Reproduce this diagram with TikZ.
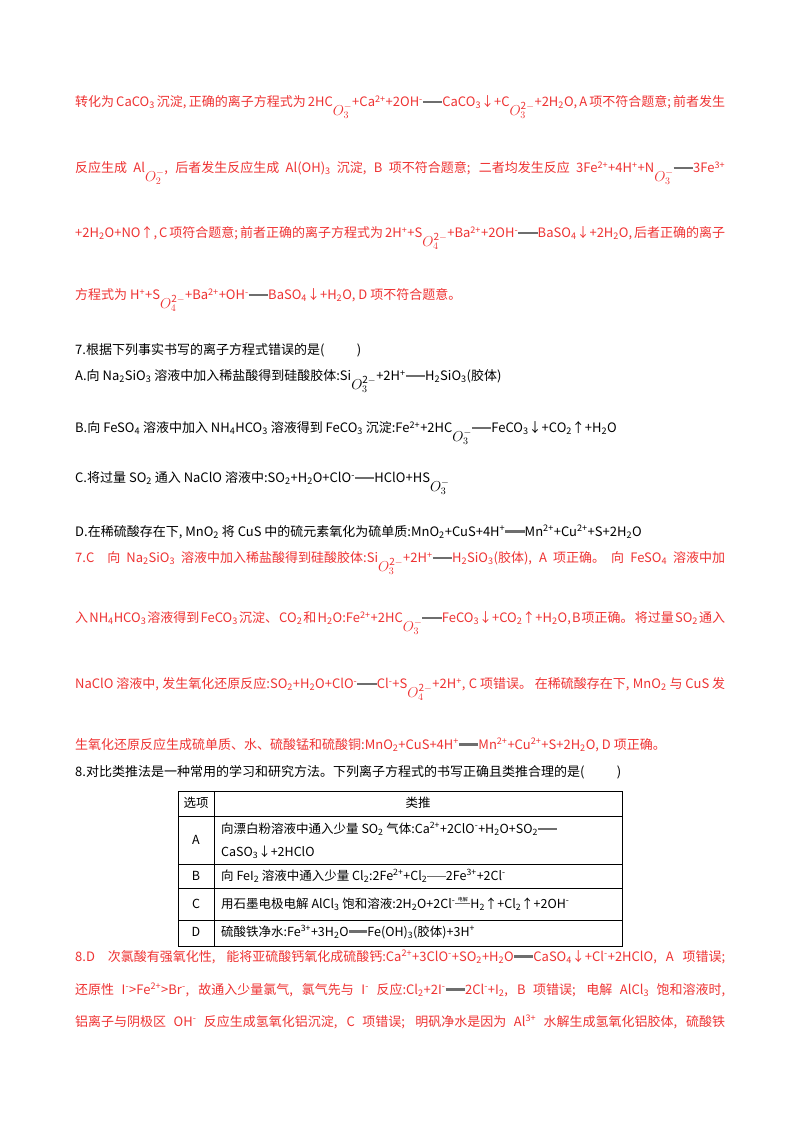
\documentclass[tikz,border=0pt]{standalone}
\usepackage{fontspec}
\setmainfont{Noto Sans CJK SC}
\definecolor{ansred}{RGB}{238,50,50}
\definecolor{eqgray}{RGB}{110,110,110}
\newcommand\sbs[1]{\textsubscript{#1}}
\newcommand\sps[1]{\textsuperscript{#1}}
\newcommand\oxo[2]{\raisebox{-0.7em}{\Large$O^{\mathrm{#2}}_{#1}$}}
\newcommand\eqq{\textcolor{eqgray}{\rule[0.28em]{1.5em}{2.2pt}}}
\newcommand\eqthin{\textcolor{eqgray}{\rule[0.3em]{1.5em}{0.7pt}}}
\newcommand\eqel{\raisebox{0.3em}{\shortstack{\tiny 电解\\[-2pt]\textcolor{eqgray}{\rule{1.2em}{1.4pt}}}}}
\newcommand\jline[1]{\makebox[650pt][s]{\spaceskip=1.5pt plus 10pt minus 1pt #1}}
\begin{document}
\begin{tikzpicture}[x=1pt,y=-1pt,
  ll/.style={anchor=west,inner sep=0pt,font=\fontsize{13}{15}\selectfont},
  rl/.style={ll,text=ansred},
  cell/.style={anchor=west,inner sep=0pt,font=\fontsize{12.5}{14}\selectfont}]
\useasboundingbox (0,0) rectangle (800,1132);
\node[rl] (l1) at (75,107) {\jline{转化为 CaCO\sbs3 沉淀, 正确的离子方程式为 2HC\oxo3{-}+Ca\sps{2+}+2OH\sps{-}\eqq CaCO\sbs3↓+C\oxo3{2-}+2H\sbs2O, A 项不符合题意; 前者发生}};
\node[rl] (l2) at (75,173) {\jline{反应生成 Al\oxo2{-}, 后者发生反应生成 Al(OH)\sbs3 沉淀, B 项不符合题意; 二者均发生反应 3Fe\sps{2+}+4H\sps{+}+N\oxo3{-}\eqq 3Fe\sps{3+}}};
\node[rl] (l3) at (75,238) {\jline{+2H\sbs2O+NO↑, C 项符合题意; 前者正确的离子方程式为 2H\sps{+}+S\oxo4{2-}+Ba\sps{2+}+2OH\sps{-}\eqq BaSO\sbs4↓+2H\sbs2O, 后者正确的离子}};
\node[rl] (l4) at (75,300) {方程式为 H\sps{+}+S\oxo4{2-}+Ba\sps{2+}+OH\sps{-}\eqq BaSO\sbs4↓+H\sbs2O, D 项不符合题意。};
\node[ll] (q7) at (75,350) {7.根据下列事实书写的离子方程式错误的是(\hspace{2.5em})};
\node[ll] (qa) at (75,381) {A.向 Na\sbs2SiO\sbs3 溶液中加入稀盐酸得到硅酸胶体:Si\oxo3{2-}+2H\sps{+}\eqq H\sbs2SiO\sbs3(胶体)};
\node[ll] (qb) at (75,433) {B.向 FeSO\sbs4 溶液中加入 NH\sbs4HCO\sbs3 溶液得到 FeCO\sbs3 沉淀:Fe\sps{2+}+2HC\oxo3{-}\eqq FeCO\sbs3↓+CO\sbs2↑+H\sbs2O};
\node[ll] (qc) at (75,483) {C.将过量 SO\sbs2 通入 NaClO 溶液中:SO\sbs2+H\sbs2O+ClO\sps{-}\eqq HClO+HS\oxo3{-}};
\node[ll] (qd) at (75,532) {D.在稀硫酸存在下, MnO\sbs2 将 CuS 中的硫元素氧化为硫单质:MnO\sbs2+CuS+4H\sps{+}\eqq Mn\sps{2+}+Cu\sps{2+}+S+2H\sbs2O};
\node[rl] (a1) at (75,563) {\jline{7.C\quad 向 Na\sbs2SiO\sbs3 溶液中加入稀盐酸得到硅酸胶体:Si\oxo3{2-}+2H\sps{+}\eqq H\sbs2SiO\sbs3(胶体), A 项正确。 向 FeSO\sbs4 溶液中加}};
\node[rl] (a2) at (75,623) {\jline{入 NH\sbs4HCO\sbs3 溶液得到 FeCO\sbs3 沉淀、 CO\sbs2 和 H\sbs2O:Fe\sps{2+}+2HC\oxo3{-}\eqq FeCO\sbs3↓+CO\sbs2↑+H\sbs2O, B 项正确。 将过量 SO\sbs2 通入}};
\node[rl] (a3) at (75,689) {\jline{NaClO 溶液中, 发生氧化还原反应:SO\sbs2+H\sbs2O+ClO\sps{-}\eqq Cl\sps{-}+S\oxo4{2-}+2H\sps{+}, C 项错误。 在稀硫酸存在下, MnO\sbs2 与 CuS 发}};
\node[rl] (a4) at (75,745) {生氧化还原反应生成硫单质、水、硫酸锰和硫酸铜:MnO\sbs2+CuS+4H\sps{+}\eqq Mn\sps{2+}+Cu\sps{2+}+S+2H\sbs2O, D 项正确。};
\node[ll] (q8) at (75,772) {8.对比类推法是一种常用的学习和研究方法。下列离子方程式的书写正确且类推合理的是(\hspace{2.5em})};
% table
\draw[line width=0.8pt] (178,791) rectangle (622,946);
\draw[line width=0.6pt] (214,791) -- (214,946)
  (178,816) -- (622,816) (178,864) -- (622,864) (178,888) -- (622,888) (178,920) -- (622,920);
\node[cell,anchor=center] (h1) at (196,803) {选项};
\node[cell,anchor=center] (h2) at (418,803) {类推};
\node[cell,anchor=center] (ka) at (196,840) {A};
\node[cell] (ta1) at (221,829) {向漂白粉溶液中通入少量 SO\sbs2 气体:Ca\sps{2+}+2ClO\sps{-}+H\sbs2O+SO\sbs2\eqq};
\node[cell] (ta2) at (221,852) {CaSO\sbs3↓+2HClO};
\node[cell,anchor=center] (kb) at (196,876) {B};
\node[cell] (tb) at (221,876) {向 FeI\sbs2 溶液中通入少量 Cl\sbs2:2Fe\sps{2+}+Cl\sbs2\eqthin 2Fe\sps{3+}+2Cl\sps{-}};
\node[cell,anchor=center] (kc) at (196,904) {C};
\node[cell] (tc) at (221,904) {用石墨电极电解 AlCl\sbs3 饱和溶液:2H\sbs2O+2Cl\sps{-}\eqel H\sbs2↑+Cl\sbs2↑+2OH\sps{-}};
\node[cell,anchor=center] (kd) at (196,932) {D};
\node[cell] (td) at (221,932) {硫酸铁净水:Fe\sps{3+}+3H\sbs2O\eqq Fe(OH)\sbs3(胶体)+3H\sps{+}};
\node[rl] (b1) at (75,957) {\jline{8.D\quad 次氯酸有强氧化性, 能将亚硫酸钙氧化成硫酸钙:Ca\sps{2+}+3ClO\sps{-}+SO\sbs2+H\sbs2O\eqq CaSO\sbs4↓+Cl\sps{-}+2HClO, A 项错误;}};
\node[rl] (b2) at (75,990) {\jline{还原性 I\sps{-}>Fe\sps{2+}>Br\sps{-}, 故通入少量氯气, 氯气先与 I\sps{-} 反应:Cl\sbs2+2I\sps{-}\eqq 2Cl\sps{-}+I\sbs2, B 项错误; 电解 AlCl\sbs3 饱和溶液时,}};
\node[rl] (b3) at (75,1022) {\jline{铝离子与阴极区 OH\sps{-} 反应生成氢氧化铝沉淀, C 项错误; 明矾净水是因为 Al\sps{3+} 水解生成氢氧化铝胶体, 硫酸铁}};
\end{tikzpicture}
\end{document}
